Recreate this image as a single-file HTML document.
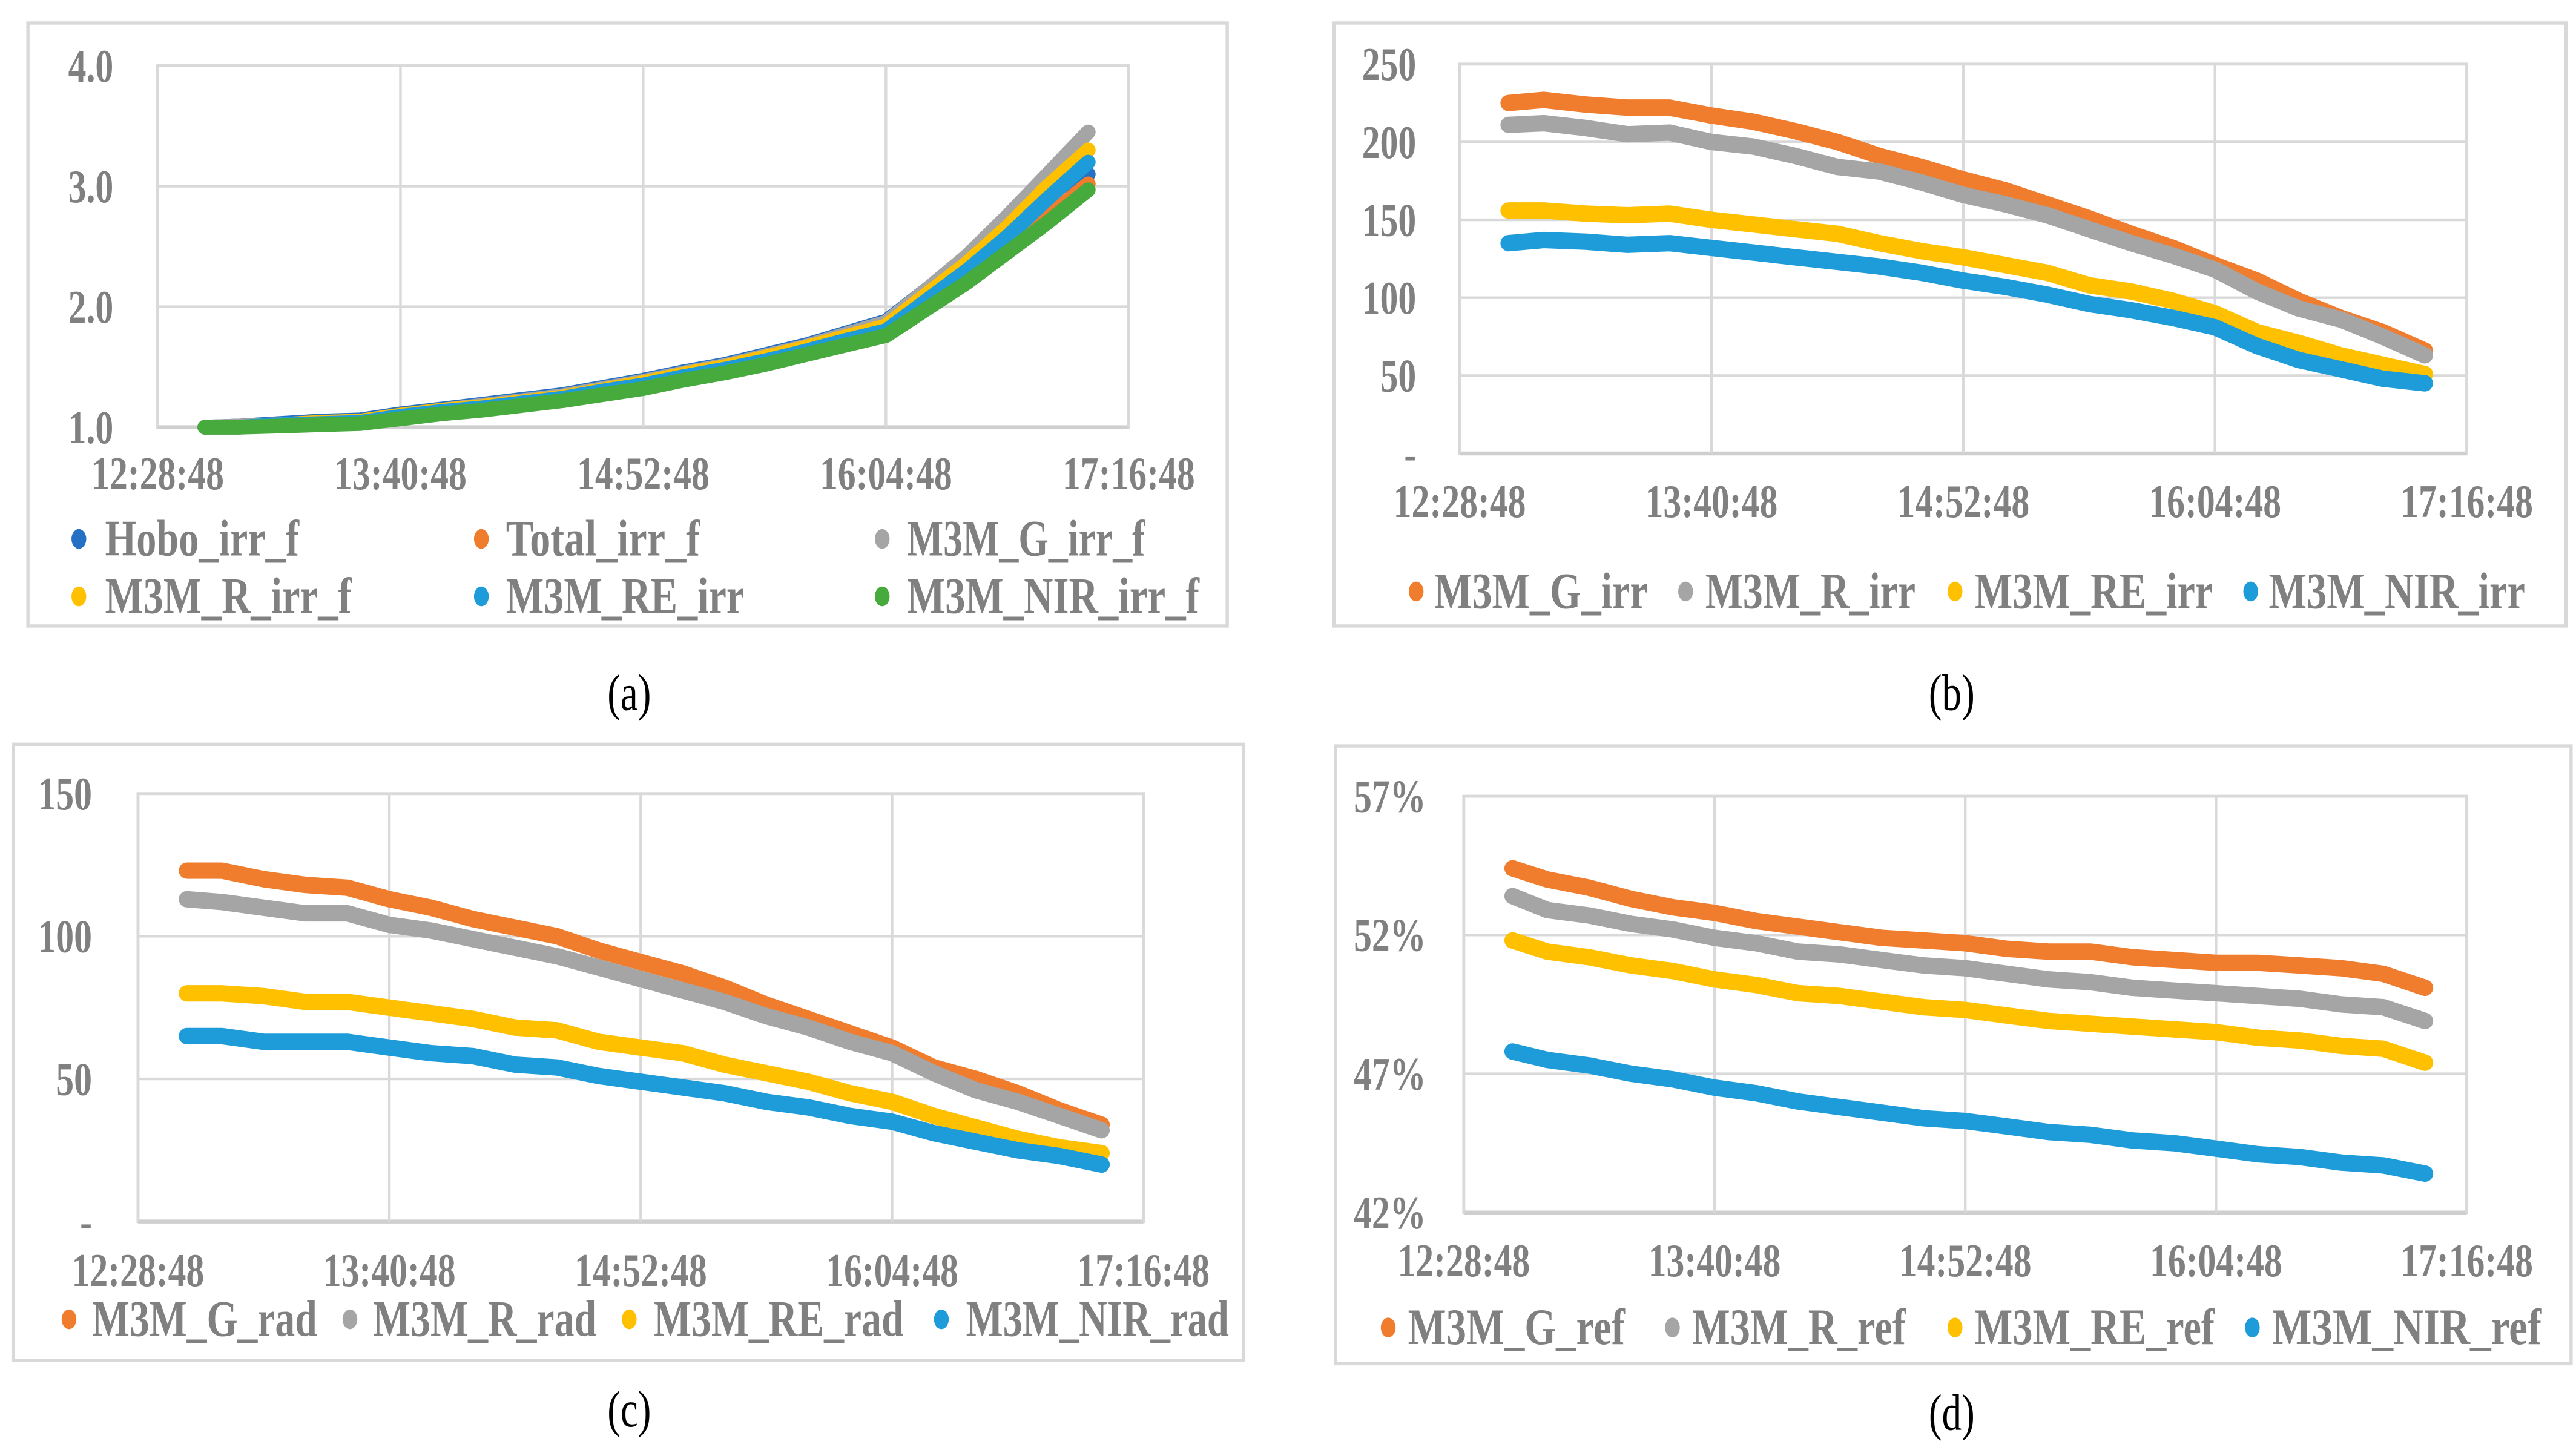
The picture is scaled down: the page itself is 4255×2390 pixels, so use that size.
<!DOCTYPE html>
<html>
<head>
<meta charset="utf-8">
<style>
html,body{margin:0;padding:0;background:#fff;}
svg{display:block;}
</style>
</head>
<body>
<svg id="fig" xmlns="http://www.w3.org/2000/svg" width="4255" height="2390" viewBox="0 0 1568 880.7" preserveAspectRatio="none"></svg>
<script>
// ---- shared x axis (minutes since 12:28:48) ----
const xTicks = [0, 72, 144, 216, 288];
const xTickLabels = ["12:28:48", "13:40:48", "14:52:48", "16:04:48", "17:16:48"];
const times = [14,24,36,48,60,72,84,96,108,120,132,144,156,168,180,192,204,216,228,240,252,264,276];

// ---- panel (a) irradiance factors ----
const aTicks = [1, 2, 3, 4];
const aTickLabels = ["1.0", "2.0", "3.0", "4.0"];
const aNames = ["Hobo_irr_f", "Total_irr_f", "M3M_G_irr_f", "M3M_R_irr_f", "M3M_RE_irr", "M3M_NIR_irr_f"];
const aHobo = [1.0,1.01,1.03,1.05,1.06,1.11,1.15,1.19,1.23,1.27,1.33,1.39,1.46,1.52,1.60,1.68,1.78,1.88,2.14,2.40,2.70,2.95,3.10];
const aTotal = [1.0,1.0,1.02,1.04,1.04,1.09,1.13,1.16,1.20,1.24,1.30,1.36,1.43,1.49,1.56,1.64,1.73,1.80,2.00,2.22,2.48,2.75,3.02];
const aG = [1.0,1.01,1.02,1.04,1.05,1.10,1.14,1.18,1.22,1.26,1.32,1.38,1.45,1.51,1.59,1.67,1.77,1.87,2.14,2.42,2.75,3.10,3.45];
const aR = [1.0,1.0,1.02,1.04,1.05,1.10,1.14,1.17,1.21,1.25,1.31,1.37,1.44,1.50,1.58,1.66,1.75,1.84,2.10,2.36,2.66,3.00,3.30];
const aRE = [1.0,1.0,1.02,1.03,1.04,1.09,1.13,1.16,1.20,1.24,1.30,1.35,1.42,1.48,1.55,1.63,1.72,1.80,2.05,2.30,2.58,2.90,3.20];
const aNIR = [1.0,1.0,1.01,1.02,1.03,1.07,1.11,1.14,1.18,1.22,1.27,1.32,1.39,1.45,1.52,1.60,1.68,1.76,1.98,2.20,2.45,2.70,2.97];

// ---- panel (b) irradiance ----
const bTicks = [0, 50, 100, 150, 200, 250];
const bTickLabels = ["-", "50", "100", "150", "200", "250"];
const bNames = ["M3M_G_irr", "M3M_R_irr", "M3M_RE_irr", "M3M_NIR_irr"];
const bG = [225,227,224,222,222,217,213,207,200,191,184,176,169,160,151,141,132,121,111,98,87,78,66];
const bR = [211,212,209,205,206,200,197,191,184,181,174,166,160,153,144,135,127,118,104,93,86,75,63];
const bRE = [156,156,154,153,154,150,147,144,141,135,130,126,121,116,108,104,98,90,78,71,63,57,51];
const bNIR = [135,137,136,134,135,132,129,126,123,120,116,111,107,102,96,92,87,81,69,60,54,48,45];

// ---- panel (c) radiance ----
const cTicks = [0, 50, 100, 150];
const cTickLabels = ["-", "50", "100", "150"];
const cNames = ["M3M_G_rad", "M3M_R_rad", "M3M_RE_rad", "M3M_NIR_rad"];
const cG = [123,123,120,118,117,113,110,106,103,100,95,91,87,82,76,71,66,61,54,50,45,39,34];
const cR = [113,112,110,108,108,104,102,99,96,93,89,85,81,77,72,68,63,59,52,46,42,37,32];
const cRE = [80,80,79,77,77,75,73,71,68,67,63,61,59,55,52,49,45,42,37,33,29,26,24];
const cNIR = [65,65,63,63,63,61,59,58,55,54,51,49,47,45,42,40,37,35,31,28,25,23,20];

// ---- panel (d) reflectance (%) ----
const dTicks = [42, 47, 52, 57];
const dTickLabels = ["42%", "47%", "52%", "57%"];
const dNames = ["M3M_G_ref", "M3M_R_ref", "M3M_RE_ref", "M3M_NIR_ref"];
const dG = [54.4,54.0,53.7,53.3,53.0,52.8,52.5,52.3,52.1,51.9,51.8,51.7,51.5,51.4,51.4,51.2,51.1,51.0,51.0,50.9,50.8,50.6,50.1];
const dR = [53.4,52.9,52.7,52.4,52.2,51.9,51.7,51.4,51.3,51.1,50.9,50.8,50.6,50.4,50.3,50.1,50.0,49.9,49.8,49.7,49.5,49.4,48.9];
const dRE = [51.8,51.4,51.2,50.9,50.7,50.4,50.2,49.9,49.8,49.6,49.4,49.3,49.1,48.9,48.8,48.7,48.6,48.5,48.3,48.2,48.0,47.9,47.4];
const dNIR = [47.8,47.5,47.3,47.0,46.8,46.5,46.3,46.0,45.8,45.6,45.4,45.3,45.1,44.9,44.8,44.6,44.5,44.3,44.1,44.0,43.8,43.7,43.4];

const NS = "http://www.w3.org/2000/svg";
const svg = document.getElementById("fig");
const TXT = "#808080", GRID = "#d9d9d9";
const C = {orange:"#F07D2E", gray:"#A5A5A5", yellow:"#FFC000", blue:"#1E9CD9", green:"#47AA3C", dblue:"#2470C4"};

function mk(tag, parent, attrs) {
  const e = document.createElementNS(NS, tag);
  for (const k in attrs) e.setAttribute(k, attrs[k]);
  parent.appendChild(e);
  return e;
}
function txt(parent, x, y, str, size, fill, anchor, name, tlen, weight) {
  const t = mk("text", parent, {transform:"translate(" + x + "," + y + ") scale(1,1.3)", "font-family":"'Liberation Serif', serif", "font-size":size, "font-weight":weight || "bold", fill:fill, "text-anchor":anchor, "dominant-baseline":"central"});
  if (tlen) { t.setAttribute("textLength", tlen); t.setAttribute("lengthAdjust", "spacingAndGlyphs"); }
  t.textContent = str;
  
  
  return t;
}

function panel(cfg) {
  const g = mk("g", svg, {});
  
  
  const frame = mk("rect", g, {x:cfg.box[0], y:cfg.box[1], width:cfg.box[2]-cfg.box[0], height:cfg.box[3]-cfg.box[1], fill:"#fff", stroke:GRID, "stroke-width":2});
  
  
  const X = m => cfg.x0 + (m - xTicks[0]) / (xTicks[xTicks.length-1] - xTicks[0]) * (cfg.x1 - cfg.x0);
  const ymin = cfg.yTicks[0], ymax = cfg.yTicks[cfg.yTicks.length-1];
  const Y = v => cfg.yb - (v - ymin) / (ymax - ymin) * (cfg.yb - cfg.yt);
  const pf = mk("rect", g, {x:cfg.x0, y:cfg.yt, width:cfg.x1-cfg.x0, height:cfg.yb-cfg.yt, fill:"none", stroke:GRID, "stroke-width":1.8});
  
  
  cfg.yTicks.forEach((v, i) => {
    const l = mk("line", g, {x1:cfg.x0, x2:cfg.x1, y1:Y(v), y2:Y(v), stroke: i === 0 ? "#cfcfcf" : GRID, "stroke-width": i === 0 ? 2.4 : 1.6});
    
    
    txt(g, cfg.ylabX, Y(v), cfg.yLabels[i], 22, TXT, "end", cfg.id + '-y-tick-label');
  });
  xTicks.forEach((m, i) => {
    const l = mk("line", g, {x1:X(m), x2:X(m), y1:cfg.yt, y2:cfg.yb, stroke:GRID, "stroke-width":1.6});
    
    
    txt(g, X(m), cfg.xlabY, xTickLabels[i], 22, TXT, "middle", cfg.id + '-x-tick-label');
  });
  cfg.series.forEach((s) => {
    const pts = times.map((t, i) => X(t).toFixed(1) + "," + Y(s.vals[i]).toFixed(1)).join(" ");
    const p = mk("polyline", g, {points:pts, fill:"none", stroke:s.color, "stroke-width":cfg.sw, "stroke-linejoin":"round", "stroke-linecap":"round"});
    
    
  });
  cfg.series.forEach((s, si) => {
    const L = cfg.legend[si];
    const d = mk("ellipse", g, {cx:L[0], cy:L[1], rx:4.5, ry:6, fill:s.color});
    
    
    txt(g, L[2], L[1], s.name, 24, TXT, "start", cfg.id + '-legend-label', L[3]);
  });
  txt(g, cfg.cap[0], cfg.cap[1], cfg.capText, 24, "#000", "middle", cfg.id + '-caption', null, "normal");
}

panel({id:"a", box:[17,14,747,381], x0:96, x1:687, yt:40, yb:260, yTicks:aTicks, yLabels:aTickLabels, ylabX:69, xlabY:288, sw:9,
  series:[{name:aNames[0],vals:aHobo,color:C.dblue},{name:aNames[1],vals:aTotal,color:C.orange},{name:aNames[2],vals:aG,color:C.gray},
          {name:aNames[3],vals:aR,color:C.yellow},{name:aNames[4],vals:aRE,color:C.blue},{name:aNames[5],vals:aNIR,color:C.green}],
  legend:[[48,328,64,118],[293,328,308,118],[537,328,552,145],[48,363,64,150],[293,363,308,145],[537,363,552,178]],
  cap:[383,422], capText:"(a)"});

panel({id:"b", box:[812,14,1562,381], x0:888.5, x1:1501.5, yt:39, yb:276, yTicks:bTicks, yLabels:bTickLabels, ylabX:862, xlabY:305, sw:10,
  series:[{name:bNames[0],vals:bG,color:C.orange},{name:bNames[1],vals:bR,color:C.gray},{name:bNames[2],vals:bRE,color:C.yellow},{name:bNames[3],vals:bNIR,color:C.blue}],
  legend:[[862,360,873,130],[1026,360,1038,128],[1190,360,1202,145],[1370,360,1381,156]],
  cap:[1188,422], capText:"(b)"});

panel({id:"c", box:[8,453,757,828], x0:84, x1:696, yt:483, yb:743.5, yTicks:cTicks, yLabels:cTickLabels, ylabX:56, xlabY:773, sw:10,
  series:[{name:cNames[0],vals:cG,color:C.orange},{name:cNames[1],vals:cR,color:C.gray},{name:cNames[2],vals:cRE,color:C.yellow},{name:cNames[3],vals:cNIR,color:C.blue}],
  legend:[[42,803,56,137],[213,803,227,136],[383,803,398,152],[573,803,588,160]],
  cap:[383,858], capText:"(c)"});

panel({id:"d", box:[813,454,1565,830], x0:891, x1:1501.5, yt:484.6, yb:738, yTicks:dTicks, yLabels:dTickLabels, ylabX:868, xlabY:767, sw:10,
  series:[{name:dNames[0],vals:dG,color:C.orange},{name:dNames[1],vals:dR,color:C.gray},{name:dNames[2],vals:dRE,color:C.yellow},{name:dNames[3],vals:dNIR,color:C.blue}],
  legend:[[845,808,857,132],[1018,808,1030,130],[1190,808,1202,146],[1371,808,1383,164]],
  cap:[1188,860], capText:"(d)"});
</script>
</body>
</html>
